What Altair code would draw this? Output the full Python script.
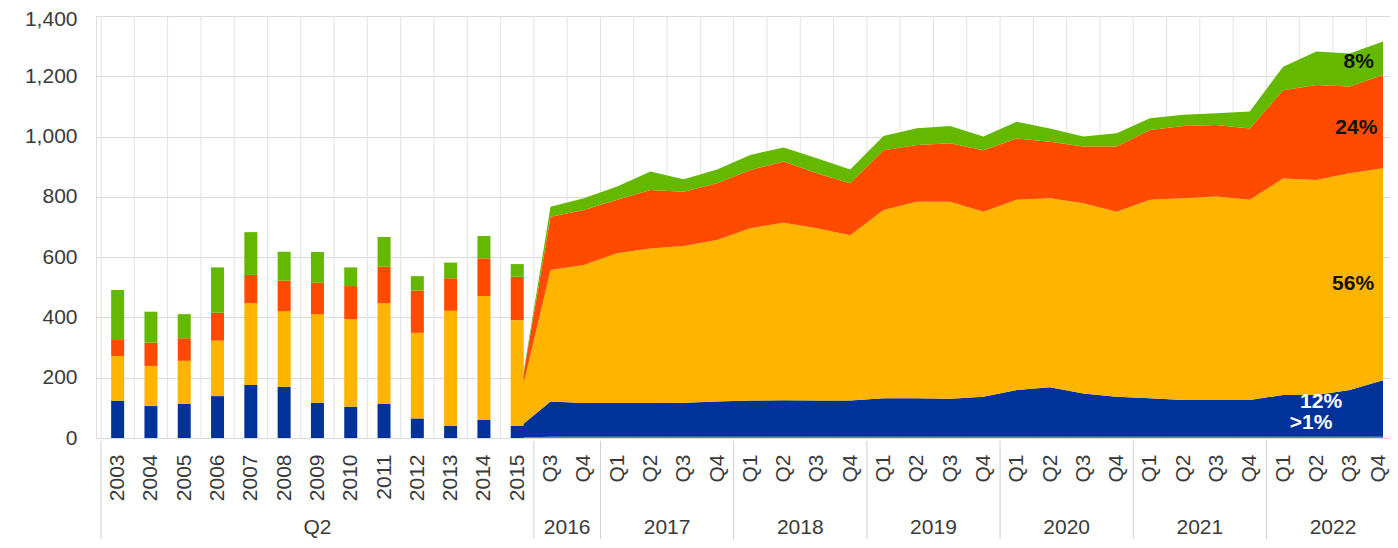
import altair as alt
import pandas as pd

# ---------------- data ----------------
tick_labels = ["2003", "2004", "2005", "2006", "2007", "2008", "2009", "2010",
               "2011", "2012", "2013", "2014", "2015", "Q3", "Q4"] + ["Q1", "Q2", "Q3", "Q4"] * 6

group_names = ["Q2", "2016", "2017", "2018", "2019", "2020", "2021", "2022"]
group_first = [0, 13, 15, 19, 23, 27, 31, 35]
group_last = [12, 14, 18, 22, 26, 30, 34, 38]

series = ["Other (>1%)", "Series B", "Series C", "Series D", "Series E"]
colors = ["#00B1EA", "#003299", "#FFB400", "#FF4B00", "#65B800"]

# annual bars 2003-2015 (Q2 values)
bar_idx = list(range(13))
bar_lightblue = [0] * 13
bar_blue = [124, 106, 113, 139, 176, 170, 117, 104, 113, 65, 40, 60, 40]
bar_yellow = [148, 133, 143, 184, 271, 251, 294, 290, 334, 284, 382, 411, 351]
bar_orange = [53, 77, 75, 93, 94, 101, 104, 110, 121, 140, 108, 125, 144]
bar_green = [166, 103, 80, 150, 142, 96, 102, 62, 99, 48, 52, 74, 42]

# quarterly areas 2015 (start) and 2016 Q3 - 2022 Q4
area_idx = list(range(12, 39))
area_lightblue = [2] + [4] * 26
area_blue = [28, 117, 112, 112, 112, 113, 117, 120, 121, 120, 120, 128, 128, 126,
             133, 155, 164, 144, 133, 128, 122, 122, 122, 139, 139, 155, 188]
area_yellow = [60, 436, 458, 497, 513, 520, 536, 572, 589, 572, 549, 624, 652, 654,
               614, 631, 627, 631, 614, 658, 669, 675, 664, 718, 713, 719, 703]
area_orange = [0, 177, 182, 177, 194, 180, 188, 193, 203, 182, 172, 199, 188, 194,
               204, 204, 188, 188, 216, 232, 240, 237, 237, 293, 315, 288, 309]
area_green = [0, 33, 39, 44, 61, 41, 46, 50, 47, 50, 46, 47, 56, 57,
              45, 55, 44, 33, 44, 39, 37, 39, 56, 78, 111, 110, 111]

# share annotations (last observation)
dark_text = ["8%", "24%", "56%"]
dark_text_idx = [37.27, 37.2, 37.1]
dark_text_val = [1247, 1028, 511]
light_text = ["12%", ">1%"]
light_text_idx = [36.14, 35.84]
light_text_val = [119, 50]

# ---------------- tables ----------------
def long_table(idx, cols):
    rows = []
    for k, (name, vals) in enumerate(zip(series, cols)):
        for i, v in zip(idx, vals):
            rows.append({"idx": i, "series": name, "ord": k, "value": v})
    return pd.DataFrame(rows)

bars_df = long_table(bar_idx, [bar_lightblue, bar_blue, bar_yellow, bar_orange, bar_green])
area_df = long_table(area_idx, [area_lightblue, area_blue, area_yellow, area_orange, area_green])

n_cat = len(tick_labels)
grid_df = pd.DataFrame({"idx": [i - 0.5 for i in range(n_cat)]})
sep_df = pd.DataFrame({"idx": [f - 0.5 for f in group_first]})
grp_df = pd.DataFrame({"name": group_names,
                       "idx": [(a + b) / 2 for a, b in zip(group_first, group_last)]})
dark_df = pd.DataFrame({"t": dark_text, "idx": dark_text_idx, "value": dark_text_val})
light_df = pd.DataFrame({"t": light_text, "idx": light_text_idx, "value": light_text_val})

# ---------------- chart ----------------
W, H = 1294, 422
PAD_L, PAD_T, PAD_B = 88, 8, 101
FONT = "Liberation Sans"
TXT = "#3a3a3a"
Y_MAX = 1400

label_expr = "[" + ",".join("'%s'" % s for s in tick_labels) + "][datum.value]"

xscale = alt.Scale(domain=[-0.5, 38.06], nice=False, zero=False)
yscale = alt.Scale(domain=[0, Y_MAX], nice=False, zero=True)

xaxis = alt.Axis(values=list(range(n_cat)), labelExpr=label_expr, labelAngle=270,
                 labelFontSize=21, labelFont=FONT, labelColor=TXT, labelPadding=16,
                 labelOffset={"condition": {"test": "datum.value == %d" % (n_cat - 1), "value": -5},
                              "value": 0},
                 ticks=False, grid=False, domain=True, domainColor="#d9d9d9",
                 labelOverlap=False, labelFlush=False, labelBound=False, title=None)
yaxis = alt.Axis(values=list(range(0, Y_MAX + 1, 200)), labelExpr="format(datum.value, ',')",
                 labelOffset={"condition": {"test": "datum.value == %d" % Y_MAX, "value": 3},
                              "value": 0},
                 grid=True, gridColor="#dadada", domain=False, ticks=False,
                 labelPadding=19, labelFontSize=21, labelFont=FONT, labelColor=TXT,
                 labelOverlap=False, title=None)


def X(field="idx:Q"):
    return alt.X(field, scale=xscale, axis=xaxis)


def Y(field="value:Q", stack=None):
    if stack:
        return alt.Y(field, scale=yscale, axis=yaxis, stack=stack)
    return alt.Y(field, scale=yscale, axis=yaxis)


color = alt.Color("series:N", scale=alt.Scale(domain=series, range=colors), legend=None)

vgrid = alt.Chart(grid_df).mark_rule(color="#e3e3e3", strokeWidth=1).encode(
    x=X(), y=alt.value(0), y2=alt.value(H))

area = alt.Chart(area_df).mark_area(interpolate="linear").encode(
    x=X(), y=Y(stack="zero"), color=color,
    order=alt.Order("ord:Q", sort="ascending"))

bars = alt.Chart(bars_df).mark_bar(size=13).encode(
    x=X(), y=Y(stack="zero"), color=color,
    order=alt.Order("ord:Q", sort="ascending"))

seps = alt.Chart(sep_df).mark_rule(color="#d0d0d0", strokeWidth=1).encode(
    x=X(), y=alt.value(H + 3), y2=alt.value(H + PAD_B))

groups = alt.Chart(grp_df).mark_text(fontSize=21, font=FONT, color=TXT,
                                     baseline="middle", align="center").encode(
    x=X(), y=alt.value(H + 90), text="name:N")

dark_lbl = alt.Chart(dark_df).mark_text(fontSize=21, font=FONT, fontWeight="bold",
                                        color="#111111", baseline="middle").encode(
    x=X(), y=Y(), text="t:N")

light_lbl = alt.Chart(light_df).mark_text(fontSize=21, font=FONT, fontWeight="bold",
                                          color="#ffffff", baseline="middle").encode(
    x=X(), y=Y(), text="t:N")

chart = alt.layer(vgrid, area, bars, seps, groups, dark_lbl, light_lbl).properties(
    width=W, height=H,
    autosize=alt.AutoSizeParams(type="none"),
    padding={"left": PAD_L, "top": PAD_T, "right": 0, "bottom": PAD_B}
).configure_view(stroke=None).configure(font=FONT)

chart.save("out.html", embed_options={"renderer": "svg", "actions": False})
